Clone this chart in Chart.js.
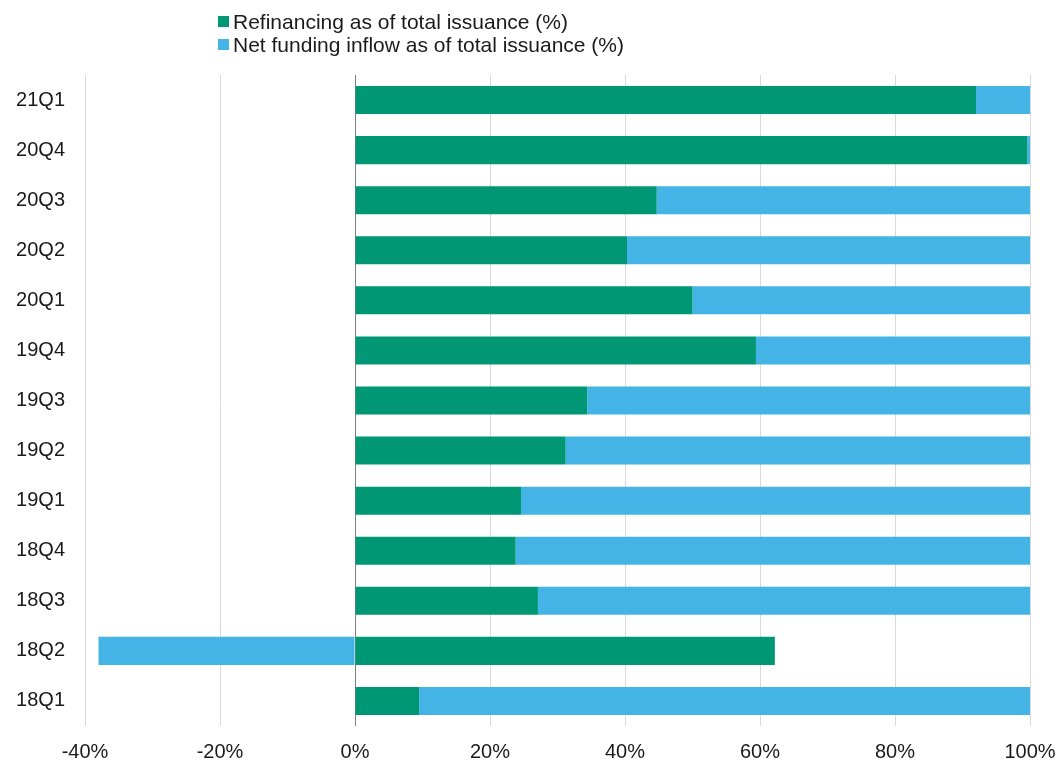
<!DOCTYPE html>
<html>
<head>
<meta charset="utf-8">
<script src="https://cdn.jsdelivr.net/npm/chart.js@4/dist/chart.umd.min.js"></script>
<style>
  html, body { margin: 0; padding: 0; background: #fff; }
  #wrap { position: relative; width: 1061px; height: 762px; }
  #legend { position: absolute; left: 218px; top: 10px; font-family: "Liberation Sans", Arial, sans-serif; font-size: 21px; color: #1a1a1a; line-height: 23px; }
  #legend div { display: flex; align-items: center; }
  #legend span.box { display: inline-block; width: 11px; height: 11px; margin-right: 4px; }
</style>
</head>
<body>
<div id="wrap">
  <canvas id="c" width="1061" height="762"></canvas>
  <div id="legend"></div>
</div>
<script>
const categories = ["21Q1","20Q4","20Q3","20Q2","20Q1","19Q4","19Q3","19Q2","19Q1","18Q4","18Q3","18Q2","18Q1"];
const refinancing = [92.0, 99.6, 44.7, 40.3, 50.0, 59.4, 34.4, 31.2, 24.6, 23.8, 27.1, 62.2, 9.5];
const netFunding = [8.0, 0.4, 55.3, 59.7, 50.0, 40.6, 65.6, 68.8, 75.4, 76.2, 72.9, -38.0, 90.5];
const seriesNames = ["Refinancing as of total issuance (%)", "Net funding inflow as of total issuance (%)"];
const seriesColors = ["#009775", "#43B4E5"];
const tickValues = [-40, -20, 0, 20, 40, 60, 80, 100];

const font = "'Liberation Sans', Arial, sans-serif";

const legendEl = document.getElementById('legend');
seriesNames.forEach((n, i) => {
  const d = document.createElement('div');
  const b = document.createElement('span');
  b.className = 'box';
  b.style.background = seriesColors[i];
  d.appendChild(b);
  d.appendChild(document.createTextNode(n));
  legendEl.appendChild(d);
});

new Chart(document.getElementById('c'), {
  type: 'bar',
  data: {
    labels: categories,
    datasets: [
      { label: seriesNames[0], data: refinancing, backgroundColor: seriesColors[0], barPercentage: 0.56, categoryPercentage: 1.0 },
      { label: seriesNames[1], data: netFunding, backgroundColor: seriesColors[1], barPercentage: 0.56, categoryPercentage: 1.0 }
    ]
  },
  options: {
    indexAxis: 'y',
    responsive: false,
    animation: false,
    layout: { padding: { top: 75, left: 0, right: 31, bottom: 0 } },
    plugins: { legend: { display: false }, tooltip: { enabled: false } },
    scales: {
      x: {
        stacked: true,
        min: -40, max: 100,
        afterBuildTicks: (axis) => { axis.ticks = tickValues.map(v => ({ value: v })); },
        afterFit: (axis) => { axis.height = 36; axis.paddingLeft = 0; axis.paddingRight = 0; },
        ticks: { callback: v => v + '%', color: '#1a1a1a', font: { family: font, size: 20 }, padding: 14, maxRotation: 0 },
        grid: { drawTicks: false, color: ctx => (ctx.tick && ctx.tick.value === 0) ? '#7f7f7f' : '#d9d9d9', lineWidth: 1 },
        border: { display: false }
      },
      y: {
        stacked: true,
        afterFit: (axis) => { axis.width = 85; axis.paddingTop = 0; axis.paddingBottom = 0; },
        ticks: { color: '#1a1a1a', font: { family: font, size: 20 }, padding: 20 },
        grid: { display: false, drawTicks: false },
        border: { display: false }
      }
    }
  }
});
</script>
</body>
</html>
